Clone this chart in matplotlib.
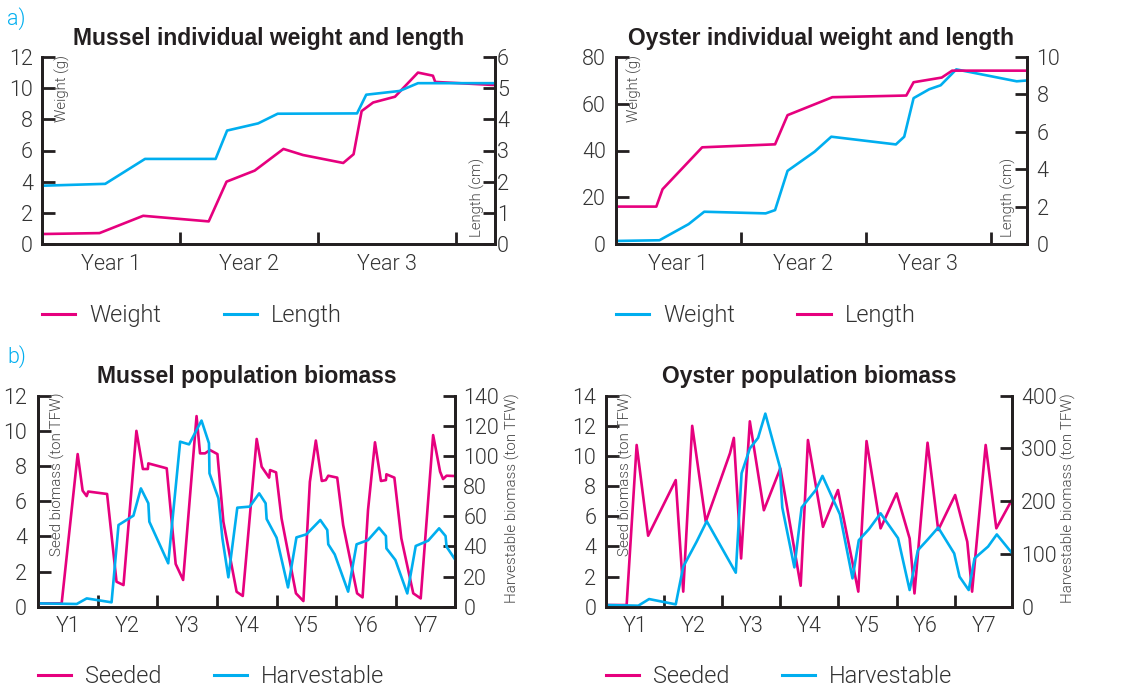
import matplotlib
matplotlib.use("Agg")
import matplotlib.pyplot as plt
from matplotlib.lines import Line2D

plt.rcParams['font.family'] = ['Roboto', 'Liberation Sans', 'DejaVu Sans']
plt.rcParams['font.weight'] = 300

MAG = '#E6007E'
CYA = '#00AEEF'
DARK = '#231F20'
GRAY = '#333333'
LIGHTGRAY = '#444444'

# ---------------- data ----------------
# a) Mussel individual (x in months)
mussel_w_month = [0, 5.0, 8.8, 14.5, 16.05, 18.5, 21.0, 22.7, 26.2, 27.1, 27.8, 28.8, 30.7, 32.7, 34.0, 34.2, 39.4]
mussel_weight = [0.64, 0.70, 1.81, 1.45, 4.0, 4.71, 6.1, 5.71, 5.2, 5.76, 8.53, 9.08, 9.45, 11.0, 10.8, 10.4, 10.2]
mussel_l_month = [0, 5.5, 8.96, 15.1, 16.1, 18.8, 20.5, 27.4, 28.2, 31.1, 32.7, 39.4]
mussel_length = [1.87, 1.93, 2.73, 2.73, 3.64, 3.87, 4.18, 4.19, 4.79, 4.91, 5.16, 5.16]

# a) Oyster individual
oyster_w_month = [0, 4.2, 7.0, 8.5, 14.4, 15.3, 16.5, 19.1, 20.7, 26.9, 27.7, 28.6, 30.1, 31.2, 32.7, 38.5, 39.6]
oyster_weight = [1.3, 1.6, 8.5, 13.8, 13.1, 14.5, 31.3, 39.5, 45.9, 42.6, 45.9, 62.4, 66.2, 67.9, 74.7, 69.6, 70.0]
oyster_l_month = [0, 3.9, 4.5, 8.3, 15.3, 16.5, 20.8, 27.9, 28.6, 31.3, 32.3, 39.6]
oyster_length = [2.0, 2.0, 2.93, 5.17, 5.33, 6.89, 7.85, 7.94, 8.65, 8.90, 9.27, 9.27]

# b) Mussel population
mussel_s_month = [0, 4.76, 7.98, 8.98, 9.79, 10.1, 13.9, 15.8, 17.2, 19.8, 21.1, 22.1, 22.2, 25.9,
                  27.7, 29.2, 31.9, 32.6, 33.6, 34.6, 36.1, 37.3, 39.96, 41.2, 44.0, 45.0, 46.5,
                  46.7, 47.9, 49.0, 51.9, 53.4, 54.7, 55.9, 57.1, 57.9, 58.4, 60.2, 61.4, 64.2,
                  65.3, 66.4, 67.8, 69.0, 70.0, 70.1, 71.7, 73.1, 75.5, 77.0, 79.5, 80.9, 81.5,
                  82.2, 83.9]
mussel_seeded = [0.19, 0.19, 8.68, 6.6, 6.29, 6.55, 6.41, 1.42, 1.23, 10.0, 7.83, 7.83, 8.15, 7.87,
                 2.43, 1.52, 10.84, 8.72, 8.72, 8.91, 8.68, 4.83, 0.85, 0.61, 9.54, 7.96, 7.34,
                 7.77, 7.64, 5.02, 0.76, 0.32, 7.1, 9.45, 7.15, 7.2, 7.45, 7.34, 4.64, 0.76,
                 0.53, 5.5, 9.35, 7.15, 7.2, 7.53, 7.34, 3.89, 0.76, 0.47, 9.76, 7.68, 7.26,
                 7.45, 7.43]
mussel_h_month = [0, 7.8, 9.8, 14.8, 16.2, 19.2, 20.7, 22.2, 22.4, 26.2, 28.6, 30.4, 32.9, 34.4,
                  34.5, 36.3, 37.1, 38.3, 40.1, 42.6, 44.5, 45.8, 46.0, 48.0, 50.3, 52.0, 54.0,
                  56.8, 58.2, 58.4, 59.7, 62.4, 64.1, 66.4, 68.6, 70.0, 70.1, 71.9, 74.3, 76.0,
                  78.5, 80.7, 82.0, 82.2, 83.9]
mussel_harvest = [2.2, 1.8, 5.5, 2.9, 54.2, 60.4, 78.5, 68.6, 56.4, 28.8, 109.5, 107.7, 123.5, 108.4,
                  88.5, 71.9, 45.4, 19.5, 65.7, 66.4, 75.2, 68.6, 58.2, 45.8, 12.8, 46.0, 48.0,
                  57.5, 50.9, 41.4, 34.7, 10.0, 41.4, 44.2, 52.4, 46.9, 38.7, 31.0, 8.8, 40.3,
                  43.8, 52.0, 46.9, 39.8, 31.4]

# b) Oyster population
oyster_s_month = [0, 4.26, 6.33, 8.7, 14.4, 15.95, 17.8, 20.6, 25.6, 26.4, 27.9, 29.7, 32.6, 36.0,
                  40.2, 41.7, 44.8, 47.9, 52.1, 53.8, 56.7, 60.0, 62.7, 63.7, 66.4, 68.6, 72.1,
                  74.6, 75.6, 78.4, 80.6, 83.8]
oyster_seeded = [0.11, 0.11, 10.73, 4.71, 8.4, 1.0, 12.0, 5.64, 10.18, 11.2, 3.2, 12.3, 6.4, 9.18,
                 1.39, 11.06, 5.3, 7.74, 1.0, 10.99, 5.2, 7.52, 4.53, 0.88, 10.88, 5.09, 7.41,
                 4.31, 1.0, 10.73, 5.2, 7.08]
oyster_h_month = [0, 6.67, 8.9, 14.4, 15.95, 18.7, 20.8, 26.8, 28.0, 29.7, 31.4, 32.9, 35.9, 36.4,
                  38.9, 40.4, 43.3, 44.7, 48.3, 50.9, 52.2, 54.3, 56.7, 60.3, 62.7, 64.4, 66.5,
                  68.6, 71.9, 73.0, 74.9, 76.1, 78.9, 80.7, 83.8]
oyster_harvest = [3.2, 1.9, 14.5, 4.4, 75.8, 123, 162, 64.5, 253, 300, 320, 366, 265, 188,
                  74.6, 188, 221, 248, 175, 53.7, 126, 147, 177, 130, 31.6, 107, 128,
                  150, 101, 56.9, 31.6, 91.6, 114, 137, 102]

year_labels_a = ['Year 1', 'Year 2', 'Year 3']
year_labels_b = ['Y1', 'Y2', 'Y3', 'Y4', 'Y5', 'Y6', 'Y7']

# ---------------- figure ----------------
W, H = 1135, 687
fig = plt.figure(figsize=(W / 100, H / 100), dpi=100)

TICK_FS = 15.5
TITLE_FONT = dict(family=['Liberation Sans', 'DejaVu Sans'], fontsize=16.5, fontweight='bold', color=DARK)


def px_axes(l, r, t, b):
    return fig.add_axes([l / W, 1 - b / H, (r - l) / W, (b - t) / H])


def style(ax, ax2, xmax, nyears, labels, ylim, yticks, ylim2, yticks2, lpad, rpad, xpad):
    ax.set_xlim(0, xmax)
    ax.set_ylim(*ylim)
    ax.set_yticks(yticks)
    ax2.set_ylim(*ylim2)
    ax2.set_yticks(yticks2)
    ax.set_xticks([12 * i for i in range(1, nyears + 1) if 12 * i < xmax - 0.5])
    ax.set_xticklabels([])
    ax.set_xticks([12 * i + 6 for i in range(len(labels))], minor=True)
    ax.set_xticklabels(labels, minor=True)
    for a in (ax, ax2):
        a.patch.set_visible(False)
        a.spines['top'].set_visible(False)
        for s in ('left', 'right', 'bottom'):
            a.spines[s].set_linewidth(2.0)
            a.spines[s].set_color(DARK)
    ax.tick_params(axis='x', which='major', direction='in', length=9, width=2, color=DARK)
    ax.tick_params(axis='x', which='minor', length=0, pad=xpad, labelsize=TICK_FS, labelcolor=GRAY)
    ax.tick_params(axis='y', direction='in', length=9, width=2, color=DARK, pad=lpad,
                   labelsize=TICK_FS, labelcolor=GRAY)
    ax2.tick_params(axis='y', direction='in', length=9, width=2, color=DARK, pad=rpad,
                    labelsize=TICK_FS, labelcolor=GRAY)


def legend(ax, handles, labels, y, colsp):
    ax.legend(handles, labels, loc='center left', bbox_to_anchor=(0, y), ncol=2, frameon=False,
              fontsize=17, handlelength=1.4, handletextpad=0.6, columnspacing=colsp,
              borderpad=0, borderaxespad=0, labelcolor=GRAY)


def h(c):
    return Line2D([0], [0], color=c, lw=2.2)


LW = 1.9

# ---- a) mussel ----
ax = px_axes(42, 495, 57, 244)
ax2 = ax.twinx()
ax.plot(mussel_w_month, mussel_weight, color=MAG, lw=LW, solid_joinstyle='round')
ax2.plot(mussel_l_month, mussel_length, color=CYA, lw=LW, solid_joinstyle='round')
style(ax, ax2, 39.4, 3, year_labels_a, (0, 12), range(0, 13, 2), (0, 6), range(0, 7), 6.5, 1.5, 7)
ax.set_title('Mussel individual weight and length', pad=9, **TITLE_FONT)
ax.text(0.046, 1.01, 'Weight (g)', transform=ax.transAxes, rotation=90, va='top', ha='center',
        fontsize=10.7, color=LIGHTGRAY)
ax.text(0.96, 0.037, 'Length (cm)', transform=ax.transAxes, rotation=90, va='bottom', ha='center',
        fontsize=10.7, color=LIGHTGRAY)
legend(ax, [h(MAG), h(CYA)], ['Weight', 'Length'], -0.385, 2.65)

# ---- a) oyster ----
ax = px_axes(615.7, 1026.7, 57, 244)
ax2 = ax.twinx()
ax.plot(oyster_w_month, oyster_weight, color=CYA, lw=LW, solid_joinstyle='round')
ax2.plot(oyster_l_month, oyster_length, color=MAG, lw=LW, solid_joinstyle='round')
style(ax, ax2, 39.46, 3, year_labels_a, (0, 80), range(0, 81, 20), (0, 10), range(0, 11, 2), 7, 7, 7)
ax.set_title('Oyster individual weight and length', pad=9, **TITLE_FONT)
ax.text(0.0465, 1.01, 'Weight (g)', transform=ax.transAxes, rotation=90, va='top', ha='center',
        fontsize=10.7, color=LIGHTGRAY)
ax.text(0.9545, 0.037, 'Length (cm)', transform=ax.transAxes, rotation=90, va='bottom', ha='center',
        fontsize=10.7, color=LIGHTGRAY)
legend(ax, [h(CYA), h(MAG)], ['Weight', 'Length'], -0.385, 2.65)

# ---- b) mussel ----
ax = px_axes(38, 455, 395.7, 606.7)
ax2 = ax.twinx()
ax.plot(mussel_s_month, mussel_seeded, color=MAG, lw=LW, solid_joinstyle='round')
ax2.plot(mussel_h_month, mussel_harvest, color=CYA, lw=LW, solid_joinstyle='round')
style(ax, ax2, 83.9, 7, year_labels_b, (0, 12), range(0, 13, 2), (0, 140), range(0, 141, 20), 8, 6, 7)
ax.set_title('Mussel population biomass', pad=9, **TITLE_FONT)
ax.text(0.0456, 1.013, 'Seed biomass (ton TFW)', transform=ax.transAxes, rotation=90, va='top',
        ha='center', fontsize=10.9, color=LIGHTGRAY)
ax.text(1.137, 1.013, 'Harvestable biomass (ton TFW)', transform=ax.transAxes, rotation=90, va='top',
        ha='center', fontsize=10.9, color=LIGHTGRAY)
legend(ax, [h(MAG), h(CYA)], ['Seeded', 'Harvestable'], -0.333, 2.2)

# ---- b) oyster ----
ax = px_axes(606, 1012.3, 395.7, 606.7)
ax2 = ax.twinx()
ax.plot(oyster_s_month, oyster_seeded, color=MAG, lw=LW, solid_joinstyle='round')
ax2.plot(oyster_h_month, oyster_harvest, color=CYA, lw=LW, solid_joinstyle='round')
style(ax, ax2, 83.9, 7, year_labels_b, (0, 14), range(0, 15, 2), (0, 400), range(0, 401, 100), 7, 6.5, 7)
ax.set_title('Oyster population biomass', pad=9, **TITLE_FONT)
ax.text(0.0468, 1.013, 'Seed biomass (ton TFW)', transform=ax.transAxes, rotation=90, va='top',
        ha='center', fontsize=10.9, color=LIGHTGRAY)
ax.text(1.137, 1.013, 'Harvestable biomass (ton TFW)', transform=ax.transAxes, rotation=90, va='top',
        ha='center', fontsize=10.9, color=LIGHTGRAY)
legend(ax, [h(MAG), h(CYA)], ['Seeded', 'Harvestable'], -0.333, 2.2)

# panel letters
fig.text(7 / W, 1 - 19 / H, 'a)', color=CYA, fontsize=15.5, va='center', ha='left')
fig.text(7 / W, 1 - 357 / H, 'b)', color=CYA, fontsize=15.5, va='center', ha='left')

fig.savefig('out.png', dpi=100)
